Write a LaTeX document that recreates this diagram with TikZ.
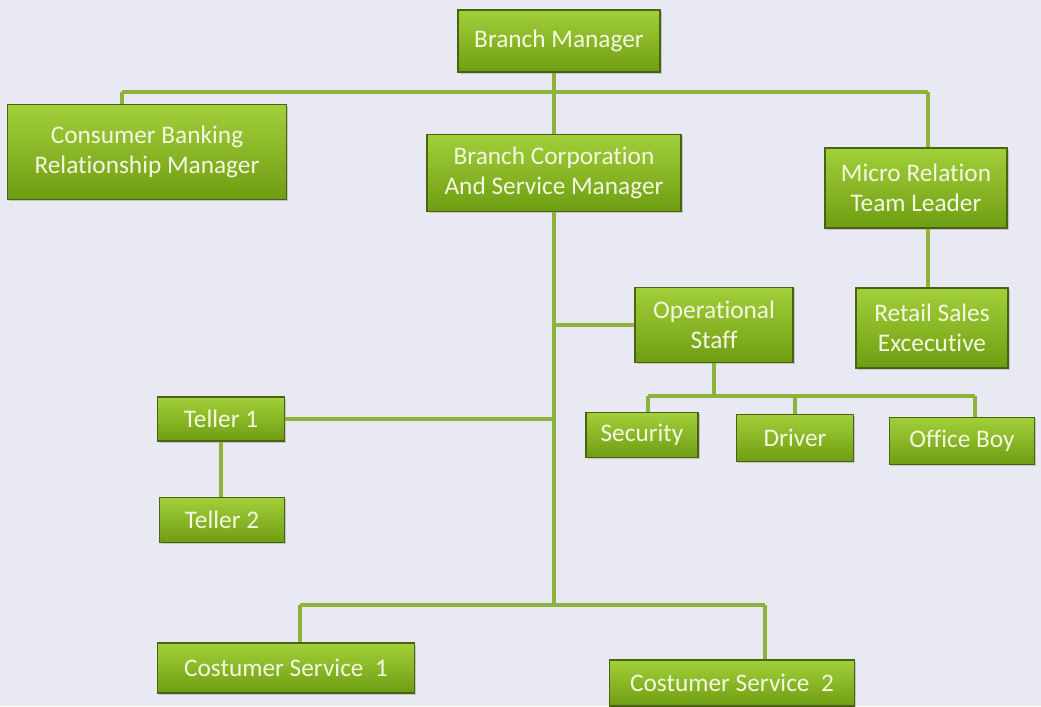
\documentclass[tikz,border=0pt]{standalone}
\usepackage{fontspec}
\setmainfont{Carlito}[Ligatures={NoCommon}]
\usetikzlibrary{shadows}
\definecolor{paper}{HTML}{E8E9F3}
\definecolor{boxtop}{HTML}{A2D03A}
\definecolor{boxbot}{HTML}{6F9D12}
\definecolor{boxline}{HTML}{4A6212}
\definecolor{wire}{HTML}{8DB33A}
\definecolor{label}{HTML}{F4F7E2}
\begin{document}
\begin{tikzpicture}[x=0.025cm,y=-0.025cm]
        \fill[paper] (0,0) rectangle (1041,706);
        \useasboundingbox (0,0) rectangle (1041,706);
        \tikzstyle{every node}=[draw=boxline,line width=0.8pt,top color=boxtop,bottom color=boxbot,
            text=label,align=center,inner sep=2pt,font=\fontsize{18}{21}\selectfont,
            drop shadow={opacity=0.35,shadow xshift=1.2pt,shadow yshift=-1.2pt}];
        \tikzstyle{wires}=[wire,line width=3.2pt];
        %\node (name) at (x,y) [minimum width=..,minimum height=..] {text};
        \node (bm) at (559,41) [minimum width=5.05cm,minimum height=1.55cm] {Branch Manager};
        \node (cbrm) at (147,152) [minimum width=6.98cm,minimum height=2.38cm] {Consumer Banking\\Relationship Manager};
        \node (bcsm) at (554,173) [minimum width=6.35cm,minimum height=1.93cm] {Branch Corporation\\And Service Manager};
        \node (mrtl) at (916,188) [minimum width=4.55cm,minimum height=2cm] {Micro Relation\\Team Leader};
        \node (os) at (714,325) [minimum width=3.95cm,minimum height=1.88cm] {Operational\\Staff};
        \node (rse) at (932,328) [minimum width=3.8cm,minimum height=2cm] {Retail Sales\\Excecutive};
        \node (t1) at (221,419) [minimum width=3.18cm,minimum height=1.1cm] {Teller 1};
        \node (t2) at (222,520) [minimum width=3.13cm,minimum height=1.13cm] {Teller 2};
        \node (sec) at (642,435) [minimum width=2.8cm,minimum height=1.13cm] {Security};
        \node (drv) at (795,438) [minimum width=2.93cm,minimum height=1.18cm] {Driver};
        \node (ob) at (962,441) [minimum width=3.63cm,minimum height=1.18cm] {Office Boy};
        \node (cs1) at (286,668) [minimum width=6.43cm,minimum height=1.25cm] {Costumer Service~~1};
        \node (cs2) at (732,683) [minimum width=6.13cm,minimum height=1.15cm] {Costumer Service~~2};
        \coordinate (tl) at (122,92);
        \coordinate (tr) at (928,92);
        \coordinate (low) at (554,605);
        \coordinate (bl) at (300,605);
        \coordinate (br) at (765,605);
        \coordinate (sl) at (648,396);
        \coordinate (sr) at (975,396);
        \draw[wires] (bcsm.north |- bm.south) -- (bcsm);
        \draw[wires] (tl) -- (tr);
        \draw[wires] (tl) -- (tl |- cbrm.north);
        \draw[wires] (tr) -- (tr |- mrtl.north);
        \draw[wires] (bcsm) -- (low);
        \draw[wires] (os) -- (os -| low);
        \draw[wires] (t1) -- (t1 -| low);
        \draw[wires] (t1.south) -- (t1.south |- t2.north);
        \draw[wires] (mrtl.south -| tr) -- (rse.north -| tr);
        \draw[wires] (bl) -- (br);
        \draw[wires] (bl) -- (bl |- cs1.north);
        \draw[wires] (br) -- (br |- cs2.north);
        \draw[wires] (os) -- (os |- sl);
        \draw[wires] (sl) -- (sr);
        \draw[wires] (sl) -- (sl |- sec.north);
        \draw[wires] (drv) -- (drv |- sl);
        \draw[wires] (sr) -- (sr |- ob.north);
    \end{tikzpicture}
\end{document}
